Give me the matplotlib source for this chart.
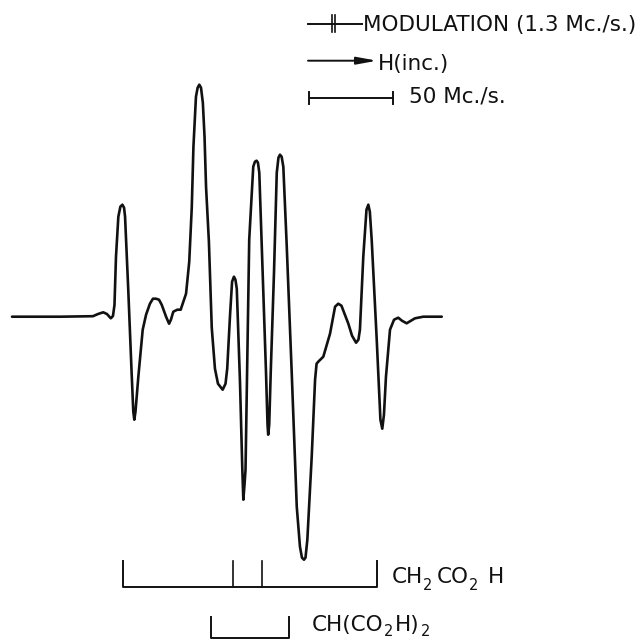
import matplotlib
matplotlib.use("Agg")
import matplotlib.pyplot as plt

# ---- data ----
# magnetic field offset (Mc./s.) and derivative signal (arbitrary units)
field = [0, 28.6, 48.2, 51.2, 54.3, 56.5, 58.8, 60.1, 61.0, 61.9, 63.3, 64.5, 65.7, 66.7, 67.3,
         69.2, 71.2, 72.2, 72.8, 73.5, 75.2, 77.8, 79.8, 82.1, 83.9, 85.7, 87.5, 89.1, 91.7,
         93.5, 94.6, 96.0, 98.4, 100.4, 103.6, 105.5, 107.0, 108.0, 109.5, 110.5, 111.5, 112.5,
         113.6, 114.6, 115.5, 117.2, 118.9, 120.8, 122.6, 125.4, 127.1, 128.1, 129.8, 131.0, 132.1,
         133.0, 133.8, 135.7, 137.1, 137.7, 138.4, 139.0, 141.2, 143.6, 144.6, 145.6, 146.4,
         147.2, 149.2, 151.2, 152.1, 152.5, 153.1, 154.0, 155.95, 157.6, 158.6, 159.5, 160.5,
         161.5, 163.5, 166.5, 169.5, 171.4, 172.6, 173.8, 174.7, 175.8, 178.4, 180.4, 181.3,
         182.3, 185.3, 189.3, 192.3, 194.2, 196.1, 200.2, 202.4, 204.8, 206.2, 207.1, 209.1,
         211.0, 212.1, 213.0, 214.1, 217.1, 219.3, 220.4, 221.4, 222.6, 225.0, 227.4, 229.9,
         232.1, 234.9, 237.5, 239.9, 244.8, 255.8]
signal = [0, 0, 0.5, 2.7, 4.4, 2.7, -1.6, 0.7, 11.7, 60, 100, 110, 112, 109, 100,
          27, -56, -95, -103, -95, -60, -13, 2, 13, 18, 18, 17, 12, 0,
          -7, -3, 5, 7, 7, 23, 55, 109, 170, 220, 229, 232, 229,
          214, 180, 130, 75, -11, -52, -67, -73, -67, -52, 2, 35, 40,
          37, 28, -65, -153, -183, -168, -153, 77, 150, 155, 156, 154,
          144, 44, -56, -108, -118, -108, -56, 44, 144, 159, 162, 160,
          150, 72, -56, -190, -230, -241, -243, -241, -223, -140, -63, -47,
          -45, -40, -17, 10, 13, 11, -7, -19, -26, -23, -13, 60,
          107, 112, 105, 77, -23, -103, -112, -98, -60, -13, -3, -1,
          -4, -6.6, -4, -1.6, 0, 0]

# stick diagrams (line positions, Mc./s.)
ch2_outer = [66.3, 217.1]
ch2_inner = [131.7, 149.0]
ch_lines = [118.5, 164.9]
# formula labels as (text, is_subscript, gap before in px)
ch2_label = [("CH", False, 0), ("2", True, 0), ("CO", False, 4), ("2", True, 1), ("H", False, 9)]
ch_label = [("CH(CO", False, 0), ("2", True, 1), ("H)", False, 1), ("2", True, 2)]
legend_mod = "MODULATION (1.3 Mc./s.)"
legend_h = "H(inc.)"
scale_mcs = 50
legend_scale = "50 Mc./s."

plt.rcParams['font.family'] = ['DejaVu Sans']

W, H = 643, 640
fig = plt.figure(figsize=(W / 100, H / 100), dpi=100)
ax = fig.add_axes([0, 0, 1, 1])
ax.set_axis_off()
# 1.68 px per Mc./s., baseline at 316.7 px from top
ax.set_xlim(-12 / 1.68, (W - 12) / 1.68)
ax.set_ylim(316.7 - H, 316.7)

col = '#111111'
ax.plot(field, signal, color=col, lw=1.9, solid_joinstyle='round', solid_capstyle='round')

# CH2CO2H stick diagram
top1, base1 = -244, -270
x0, x1 = ch2_outer
ax.plot([x0, x0, x1, x1], [top1, base1, base1, top1], color=col, lw=1.4)
for xi in ch2_inner:
    ax.plot([xi, xi], [top1, base1], color=col, lw=1.2)
# CH(CO2H)2 stick diagram
top2, base2 = -300, -321.5
c0, c1 = ch_lines
ax.plot([c0, c0, c1, c1], [top2, base2, base2, top2], color=col, lw=1.4, clip_on=False)

def px(x, y):
    return (x / W, 1 - y / H)

t = ax.transAxes
fs = 15.5
fs_sub = 10.5
renderer = fig.canvas.get_renderer()

def formula(pieces, x, y, drop):
    for txt, sub, gap in pieces:
        x += gap
        yy = y + drop if sub else y
        a = ax.text(*px(x, yy), txt, transform=t, fontsize=fs_sub if sub else fs,
                    va='baseline', ha='left', color=col)
        x += a.get_window_extent(renderer).width

formula(ch2_label, 391.7, 583, 7)
formula(ch_label, 311.7, 631.5, 5)

# legend: modulation
ax.plot(*zip(px(308, 24.3), px(362, 24.3)), transform=t, color=col, lw=1.4)
for xb in (331.5, 334.8):
    ax.plot(*zip(px(xb, 14.5), px(xb, 32)), transform=t, color=col, lw=1.2)
ax.text(*px(363, 30.7), legend_mod, transform=t, fontsize=fs, va='baseline', ha='left', color=col)

# legend: field direction
ax.annotate('', xy=px(377, 60.7), xytext=px(308, 60.7), xycoords=t, textcoords=t,
            arrowprops=dict(arrowstyle='-|>,head_length=1.2,head_width=0.22', color=col, lw=1.4,
                            shrinkA=0, shrinkB=0))
ax.text(*px(377.5, 70), legend_h, transform=t, fontsize=fs, va='baseline', ha='left', color=col)

# legend: 50 Mc./s. scale bar (x in data units)
sb_x0 = (309.3 - 12) / 1.68
sb_y = 316.7 - 98.3
ax.plot([sb_x0, sb_x0 + scale_mcs], [sb_y, sb_y], color=col, lw=1.4)
for xs in (sb_x0, sb_x0 + scale_mcs):
    ax.plot([xs, xs], [sb_y - 6, sb_y + 6], color=col, lw=1.4)
ax.text(*px(409, 102.7), legend_scale, transform=t, fontsize=fs, va='baseline', ha='left', color=col)

fig.savefig('out.png', dpi=100, facecolor='white')
